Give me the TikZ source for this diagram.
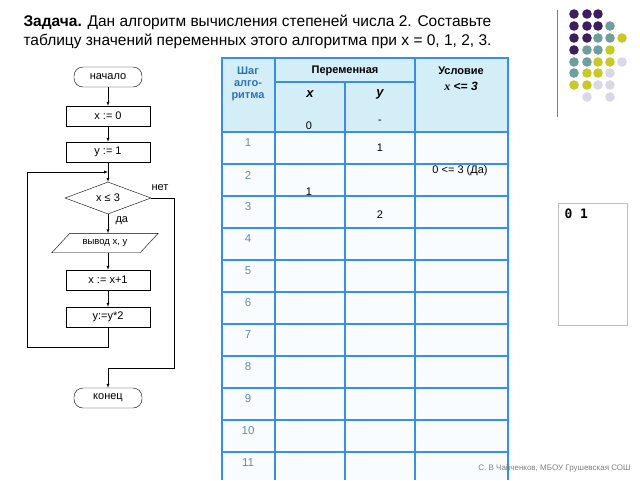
\documentclass[tikz,border=0pt]{standalone}
\usepackage{fontspec}
\setmainfont{Liberation Sans}
\usetikzlibrary{shapes.geometric}
\definecolor{tBlue}{HTML}{3A8EE6}
\definecolor{tHead}{HTML}{D4EEF8}
\definecolor{tNum}{HTML}{6A8CA8}
\definecolor{dPurple}{HTML}{3D1E5E}
\definecolor{dTeal}{HTML}{6E9E9E}
\definecolor{dYellow}{HTML}{C8C828}
\definecolor{dLilac}{HTML}{D8D8E8}

\begin{document}
\begin{tikzpicture}[x=1pt,y=-1pt,>=latex]
		\tikzstyle{term} = [draw, rounded corners=9pt, minimum width=68pt, minimum height=20pt, font=\fontsize{11}{13}\selectfont]
		\tikzstyle{proc} = [draw, minimum width=84pt, minimum height=20pt, font=\fontsize{11}{13}\selectfont]
		\tikzstyle{cond} = [draw, diamond, aspect=2.7, inner sep=1pt, minimum width=86pt, minimum height=32pt, font=\fontsize{11}{13}\selectfont]
		\tikzstyle{io} = [minimum width=88pt, minimum height=19pt, inner sep=1pt, font=\fontsize{9.5}{11}\selectfont]
		\tikzstyle{cell} = [font=\fontsize{11}{13}\selectfont]
		\tikzstyle{num} = [font=\fontsize{11.5}{13}\selectfont, text=tNum]
		\tikzstyle{grid} = [tBlue, line width=1.2pt]

		\useasboundingbox (0,0) rectangle (640,480);

		% title
		\node[anchor=west, font=\fontsize{15.5}{18}\selectfont] (tOne) at (20,22) {\textbf{Задача.} Дан алгоритм вычисления степеней числа 2. Составьте};
		\node[anchor=west, font=\fontsize{15.5}{18}\selectfont] (tTwo) at (20,41) {таблицу значений переменных этого алгоритма при x = 0, 1, 2, 3.};

		% flowchart
		\node[term] (start) at (108,77) {начало};
		\node[proc] (xZero) at (108,116) {x := 0};
		\node[proc] (yOne) at (108,152) {y := 1};
		\coordinate (join) at (108,172);
		\node[cond] (test) at (108,198) {x ≤ 3};
		\node[io] (out) at (105,243) {вывод x, y};
		\draw ([xshift=-9pt]out.south west) -- ([xshift=9pt]out.north west) -- ([xshift=9pt]out.north east) -- ([xshift=-9pt]out.south east) -- cycle;
		\node[proc] (xInc) at (108,280) {x := x+1};
		\node[proc] (yDbl) at (108,317) {y:=y*2};
		\node[term] (stop) at (108,398) {конец};
		\node[cell, anchor=south west] (no) at (148,194) {нет};
		\node[cell, anchor=west] (yes) at (112,221) {да};
		\draw[->] (start) -- (xZero);
		\draw[->] (xZero) -- (yOne);
		\draw[->] (yOne) -- (test);
		\draw[->] (test) -- (out.north -| test);
		\draw[->] (out.south -| xInc) -- (xInc);
		\draw[->] (xInc) -- (yDbl);
		\draw[->] (yDbl.south) -- ++(0,20) -| (27,172) -- (join);
		\draw[->] (test.east) -| (174,368) -| (stop.north);

		% table
		\fill[white!85!tHead] (222,58) rectangle (508,480);
		\fill[tHead] (222,58) rectangle (508,132);
		\foreach \y in {132,164,196,228,260,292,324,356,388,420,452}
			\draw[grid] (222,\y) -- (508,\y);
		\draw[grid] (275,82) -- (415,82);
		\draw[grid] (275,58) -- (275,480);
		\draw[grid] (345,82) -- (345,480);
		\draw[grid] (415,58) -- (415,480);
		\draw[tBlue, line width=2.5pt] (222,480) -- (222,58) -- (508,58) -- (508,480);
		\node[font=\bfseries\fontsize{11}{12}\selectfont, text=tBlue!80!black, align=center] (hStep) at (248,84) {Шаг\\алго-\\ритма};
		\node[font=\bfseries\fontsize{11}{13}\selectfont] (hVar) at (345,71) {Переменная};
		\node[font=\bfseries\itshape\fontsize{13}{15}\selectfont] (hX) at (310,94) {x};
		\node[font=\bfseries\itshape\fontsize{13}{15}\selectfont] (hY) at (380,94) {y};
		\node[font=\bfseries\fontsize{11}{13}\selectfont] (hCond) at (461,71) {Условие};
		\node[font=\bfseries\itshape\fontsize{12}{14}\selectfont] (hCondB) at (461,86) {{\fontspec{Liberation Serif}x} <= 3};
		\foreach \k in {1,...,11}
			\node[num] (s\k) at (248,{143+32*(\k-1)}) {\k};
		\node[cell] (vXa) at (309,126) {0};
		\node[cell] (vYa) at (380,122) {-};
		\node[cell] (vYb) at (380,148) {1};
		\node[cell] (vCa) at (460,171) {0 <= 3 (Да)};
		\node[cell] (vXb) at (309,192) {1};
		\node[cell] (vYc) at (380,215) {2};

		% side panel
		\draw[gray!50] (558,203) rectangle (627,325);
		\node[anchor=north west, font=\fontspec{DejaVu Sans Mono}\bfseries\fontsize{13}{15}\selectfont] (panel) at (561,205) {0 1};

		% dots
		\draw[gray, line width=0.8pt] (557,10) -- (557,117);
		\foreach \c/\x/\y in {dPurple/574/14, dPurple/587/14, dPurple/598/14,
			dPurple/574/26, dPurple/587/26, dPurple/598/26, dTeal/610/26,
			dPurple/574/38, dPurple/587/38, dTeal/598/38, dTeal/610/38, dYellow/622/38,
			dPurple/574/50, dTeal/587/50, dTeal/598/50, dYellow/610/50,
			dTeal/574/62, dTeal/587/62, dYellow/598/62, dYellow/610/62, dLilac/622/62,
			dTeal/574/73, dYellow/587/73, dYellow/598/73, dLilac/610/73,
			dYellow/574/85, dYellow/587/85, dLilac/598/85, dLilac/610/85,
			dLilac/587/97, dLilac/610/97}
			\fill[\c] (\x,\y) circle (4.8pt);

		% footer
		\node[anchor=east, text=gray, font=\fontsize{8}{10}\selectfont] (foot) at (634,468) {С. В Чайченков, МБОУ Грушевская СОШ};
\end{tikzpicture}
\end{document}
